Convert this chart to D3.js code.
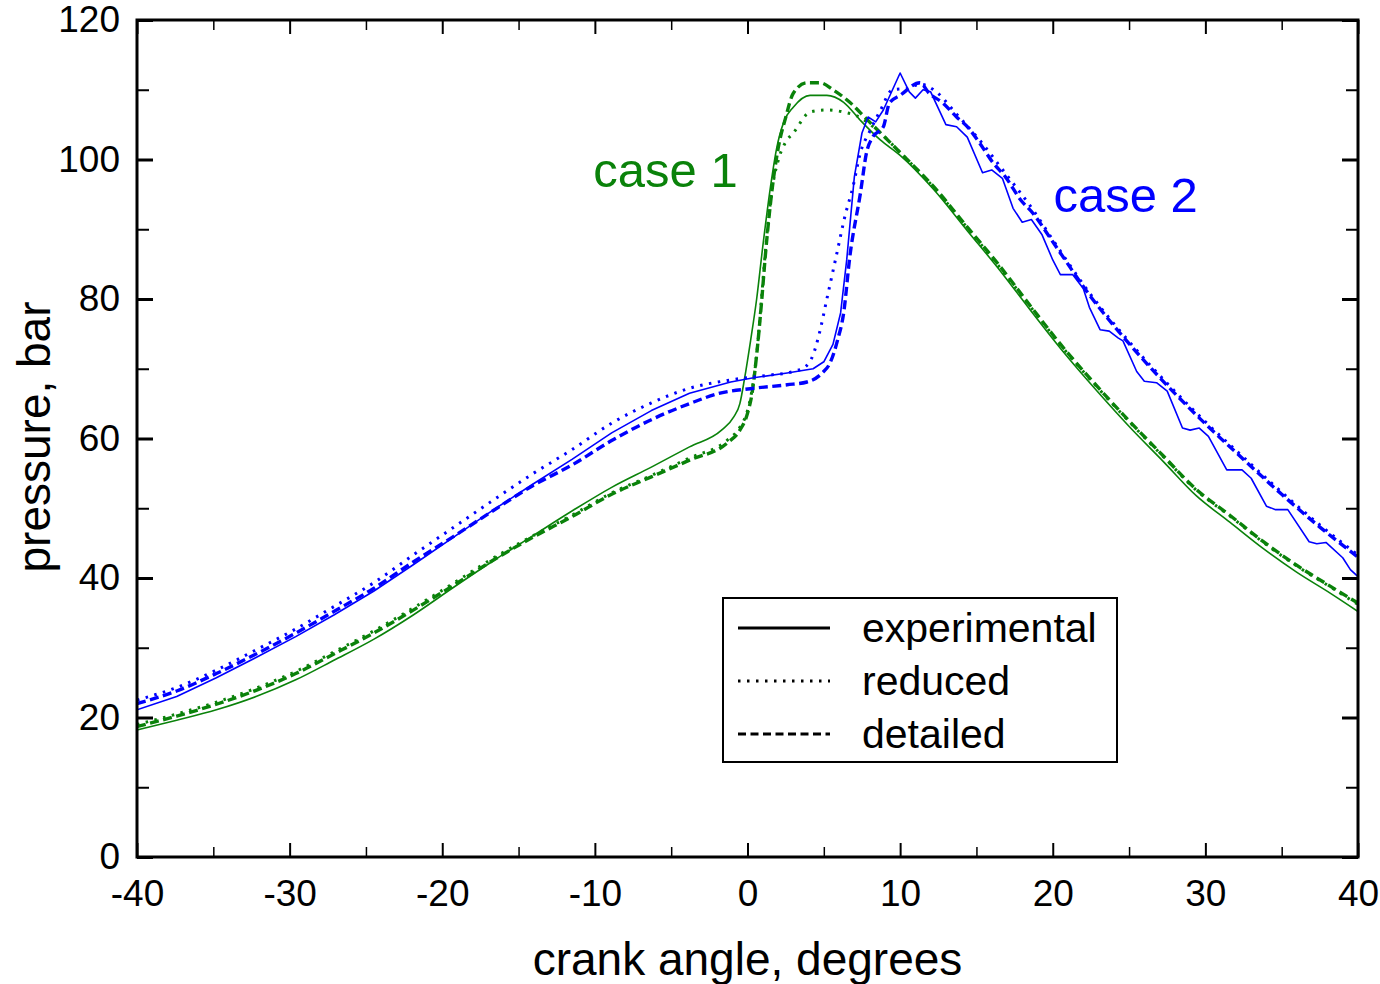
<!DOCTYPE html>
<html>
<head>
<meta charset="utf-8">
<script src="https://cdn.jsdelivr.net/npm/d3@7"></script>
<style>
  html, body { margin: 0; padding: 0; background: #fff; }
  svg { display: block; font-family: Arial, "Liberation Sans", sans-serif; }
</style>
</head>
<body>
<svg id="chart" width="1380" height="984"></svg>
<script>
// ---------------- data ----------------
const xTicksMajor = [-40, -30, -20, -10, 0, 10, 20, 30, 40];
const yTicksMajor = [0, 20, 40, 60, 80, 100, 120];

// case 1 (green)
const case1ExpAngle = [-40,-37.4,-34.8,-32.2,-29.6,-27.1,-24.5,-21.9,-19.3,-16.7,-14.1,-11.5,-8.9,-6.3,-3.8,-1.7,-0.9,-0.5,-0.2,0.2,0.6,1.0,1.5,1.9,2.4,3.0,4.1,5.2,6.3,7.4,8.7,10,12.2,14.4,16.5,18.5,20.7,22.9,25.1,27.2,29.4,31.6,33.8,36,38.2,40];
const case1ExpP     = [18.2,19.6,21.1,23.0,25.4,28.2,31.2,34.7,38.6,42.4,46.0,49.6,53.0,55.9,58.8,61.2,63.1,65.0,68.5,74.0,80.0,87.5,96.0,101.5,105.5,107.5,109.2,109.2,108.2,105.6,102.8,100.6,95.7,89.8,84.2,78.5,72.4,66.8,61.5,56.8,51.8,48.0,44.2,40.8,37.8,35.2];

const case1RedAngle = [-40,-37.4,-34.8,-32.2,-29.6,-27.1,-24.5,-21.9,-19.3,-16.7,-14.1,-11.5,-8.9,-6.3,-3.8,-1.3,-0.5,0.0,0.3,0.6,0.9,1.2,1.6,2.1,2.5,3.0,4.1,5.2,6.3,7.4,8.5,10,12.2,14.4,16.5,18.5,20.7,22.9,25.1,27.2,29.4,31.6,33.8,36,38.2,40];
const case1RedP     = [19.0,20.5,22.2,24.2,26.6,29.4,32.4,35.7,39.2,42.8,46.0,49.0,52.2,54.7,57.2,59.8,61.6,64.0,67.0,72.0,79.5,87.5,95.5,100.5,102.5,103.8,106.8,107.1,106.8,106.0,104.2,101.0,96.0,90.2,84.6,79.0,72.9,67.4,62.2,57.5,52.6,48.9,45.1,41.7,38.7,36.2];

const case1DetAngle = [-40,-37.4,-34.8,-32.2,-29.6,-27.1,-24.5,-21.9,-19.3,-16.7,-14.1,-11.5,-8.9,-6.3,-3.8,-1.3,-0.5,0.0,0.3,0.6,0.9,1.2,1.6,2.0,2.5,3.0,3.9,4.75,5.6,6.7,7.8,10,12.2,14.4,16.5,18.5,20.7,22.9,25.1,27.2,29.4,31.6,33.8,36,38.2,40];
const case1DetP     = [18.7,20.2,21.9,23.9,26.3,29.1,32.1,35.4,38.9,42.5,45.8,48.8,52.0,54.5,56.9,59.4,61.2,63.6,66.5,72.0,79.0,87.0,95.5,101.5,106.0,109.5,111.0,111.0,110.0,108.2,105.8,101.0,96.1,90.3,84.8,79.1,73.0,67.5,62.3,57.6,52.7,49.0,45.2,41.8,38.8,36.4];

// case 2 (blue)
const case2ExpAngle = [-40,-37.4,-34.8,-32.2,-29.6,-27.1,-24.5,-21.9,-19.3,-16.7,-14.1,-11.5,-8.9,-6.3,-3.8,-1.1,0.4,2.6,4.3,5.0,5.6,6.1,6.5,7.0,7.5,7.9,8.4,8.9,10.0,10.6,11.0,11.5,12.0,13.0,13.7,14.4,15.4,16.0,16.7,17.4,18.0,18.6,19.3,20.0,20.5,21.3,22.0,22.4,23.1,23.7,24.3,24.6,25.5,26.0,26.8,27.5,28.5,29.0,29.6,30.2,31.4,32.4,33.0,34.0,34.6,35.4,36.8,37.3,37.9,39.0,39.5,40];
const case2ExpP     = [21.1,23.0,25.7,28.6,31.6,34.7,38.1,41.9,45.8,49.7,53.4,57.0,60.8,64.0,66.5,68.1,68.7,69.4,70.0,71.0,73.5,78.0,85.6,97.5,103.8,106.1,105.4,107.1,112.4,109.7,108.8,110.0,109.7,105.0,104.7,103.2,98.1,98.5,97.3,93.0,91.0,91.4,89.2,85.6,83.5,83.5,81.5,78.8,75.6,75.4,74.4,74.0,69.6,68.2,68.0,66.8,61.5,61.2,61.5,60.3,55.5,55.5,54.3,50.3,49.8,49.8,45.2,44.9,45.1,42.9,41.2,40.2];

const case2RedAngle = [-40,-37.4,-34.8,-32.2,-29.6,-27.1,-24.5,-21.9,-19.3,-16.7,-14.1,-11.5,-8.9,-6.3,-3.8,-1.1,1.5,3.0,3.8,4.3,4.7,5.2,5.8,6.4,6.9,7.4,8.0,8.7,9.5,10.5,11.3,12.2,13.7,15.2,16.9,18.7,20,22.5,25,27.5,30,32.5,35,37.5,40];
const case2RedP     = [22.5,24.3,26.8,29.7,32.7,35.9,39.3,43.3,47.2,51.1,54.9,58.4,62.2,65.1,67.2,68.4,69.1,69.6,70.3,72.0,75.0,80.0,86.0,92.0,96.0,101.0,104.0,107.0,110.0,110.2,110.8,110.0,106.5,102.8,98.0,92.8,88.5,80.6,73.9,67.9,62.4,57.3,52.3,47.6,43.3];

const case2DetAngle = [-40,-37.4,-34.8,-32.2,-29.6,-27.1,-24.5,-21.9,-19.3,-16.7,-14.1,-11.5,-8.9,-6.3,-3.8,-1.8,0.4,2.6,3.9,4.9,5.4,5.9,6.3,6.7,7.4,7.8,8.2,8.9,9.3,10.0,11.3,11.9,12.8,13.7,14.4,15.2,16.1,16.9,17.9,18.7,20,22.5,25,27.5,30,32.5,35,37.5,40];
const case2DetP     = [22.0,23.8,26.3,29.1,32.1,35.2,38.5,42.3,45.9,49.6,53.2,56.2,59.7,62.7,65.0,66.5,67.2,67.7,68.1,69.4,70.8,74.1,78.0,86.0,95.2,101.0,103.2,104.7,108.1,109.2,111.0,109.5,108.1,106.1,104.7,102.4,99.5,97.5,94.2,92.3,88.2,80.3,73.6,67.6,62.1,57.0,52.0,47.3,43.0];

const legendLabels = ["experimental", "reduced", "detailed"];
const caseLabels = ["case 1", "case 2"];

// ---------------- layout ----------------
const GREEN = "#0a820a";
const BLUE = "#0000ff";
const pLeft = 137, pRight = 1358, pTop = 20, pBottom = 857;

const svg = d3.select("#chart");
const x = d3.scaleLinear().domain([-40, 40]).range([pLeft, pRight]);
const y = d3.scaleLinear().domain([0, 120]).range([pBottom, pTop]);

const styles = {
  exp: { width: 1.6, dash: null },
  red: { width: 3, dash: "2.5,6.5" },
  det: { width: 3.4, dash: "9,4.5" }
};

const series = [
  { a: case1ExpAngle, p: case1ExpP, color: GREEN, s: styles.exp, curve: d3.curveMonotoneX },
  { a: case1RedAngle, p: case1RedP, color: GREEN, s: styles.red, curve: d3.curveMonotoneX },
  { a: case1DetAngle, p: case1DetP, color: GREEN, s: styles.det, curve: d3.curveMonotoneX },
  { a: case2ExpAngle, p: case2ExpP, color: BLUE, s: styles.exp, curve: d3.curveLinear },
  { a: case2RedAngle, p: case2RedP, color: BLUE, s: styles.red, curve: d3.curveMonotoneX },
  { a: case2DetAngle, p: case2DetP, color: BLUE, s: styles.det, curve: d3.curveMonotoneX }
];

svg.append("clipPath").attr("id", "clip")
  .append("rect").attr("x", pLeft).attr("y", pTop)
  .attr("width", pRight - pLeft).attr("height", pBottom - pTop);

const plot = svg.append("g").attr("clip-path", "url(#clip)");
series.forEach(sr => {
  const pts = sr.a.map((v, i) => [v, sr.p[i]]);
  const line = d3.line().x(d => x(d[0])).y(d => y(d[1])).curve(sr.curve);
  plot.append("path")
    .attr("d", line(pts))
    .attr("fill", "none")
    .attr("stroke", sr.color)
    .attr("stroke-width", sr.s.width)
    .attr("stroke-dasharray", sr.s.dash)
    .attr("stroke-linejoin", "round");
});

// ---------------- axes ----------------
const fontTick = 37;
function styleAxis(g) {
  g.select(".domain").remove();
  g.selectAll(".tick line").attr("stroke", "#000");
}
const xMinor = d3.range(-35, 40, 10);
const yMinor = d3.range(10, 120, 20);
const fam = "Arial, 'Liberation Sans', sans-serif";
const plainFmt = d => String(d);

// bottom
svg.append("g").attr("transform", `translate(0,${pBottom})`)
  .call(d3.axisBottom(x).tickValues(xTicksMajor).tickSizeInner(-14).tickSizeOuter(0).tickPadding(23).tickFormat(plainFmt))
  .call(styleAxis)
  .call(g => g.selectAll(".tick line").attr("stroke-width", 2))
  .call(g => g.selectAll("text").attr("font-size", fontTick).attr("font-family", fam).attr("fill", "#000"));
svg.append("g").attr("transform", `translate(0,${pBottom})`)
  .call(d3.axisBottom(x).tickValues(xMinor).tickSizeInner(-10).tickSizeOuter(0).tickFormat(""))
  .call(styleAxis)
  .call(g => g.selectAll(".tick line").attr("stroke-width", 1.5));
// top
svg.append("g").attr("transform", `translate(0,${pTop})`)
  .call(d3.axisTop(x).tickValues(xTicksMajor).tickSizeInner(-14).tickSizeOuter(0).tickFormat(""))
  .call(styleAxis)
  .call(g => g.selectAll(".tick line").attr("stroke-width", 2));
svg.append("g").attr("transform", `translate(0,${pTop})`)
  .call(d3.axisTop(x).tickValues(xMinor).tickSizeInner(-10).tickSizeOuter(0).tickFormat(""))
  .call(styleAxis)
  .call(g => g.selectAll(".tick line").attr("stroke-width", 1.5));
// left
svg.append("g").attr("transform", `translate(${pLeft},0)`)
  .call(d3.axisLeft(y).tickValues(yTicksMajor).tickSizeInner(-16).tickSizeOuter(0).tickPadding(17).tickFormat(plainFmt))
  .call(styleAxis)
  .call(g => g.selectAll(".tick line").attr("stroke-width", 3))
  .call(g => g.selectAll("text").attr("font-size", fontTick).attr("font-family", fam).attr("fill", "#000"));
svg.append("g").attr("transform", `translate(${pLeft},0)`)
  .call(d3.axisLeft(y).tickValues(yMinor).tickSizeInner(-12).tickSizeOuter(0).tickFormat(""))
  .call(styleAxis)
  .call(g => g.selectAll(".tick line").attr("stroke-width", 2));
// right
svg.append("g").attr("transform", `translate(${pRight},0)`)
  .call(d3.axisRight(y).tickValues(yTicksMajor).tickSizeInner(-16).tickSizeOuter(0).tickFormat(""))
  .call(styleAxis)
  .call(g => g.selectAll(".tick line").attr("stroke-width", 3));
svg.append("g").attr("transform", `translate(${pRight},0)`)
  .call(d3.axisRight(y).tickValues(yMinor).tickSizeInner(-12).tickSizeOuter(0).tickFormat(""))
  .call(styleAxis)
  .call(g => g.selectAll(".tick line").attr("stroke-width", 2));

// frame
svg.append("rect")
  .attr("x", pLeft).attr("y", pTop)
  .attr("width", pRight - pLeft).attr("height", pBottom - pTop)
  .attr("fill", "none").attr("stroke", "#000").attr("stroke-width", 3);

// axis titles
svg.append("text")
  .attr("x", (pLeft + pRight) / 2).attr("y", 975)
  .attr("text-anchor", "middle").attr("font-size", 46).attr("fill", "#000")
  .text("crank angle, degrees");
svg.append("text")
  .attr("transform", `translate(50,437) rotate(-90)`)
  .attr("text-anchor", "middle").attr("font-size", 46).attr("fill", "#000")
  .text("pressure, bar");

// case labels
svg.append("text")
  .attr("x", x(-10.1)).attr("y", 187)
  .attr("font-size", 49).attr("fill", GREEN)
  .text(caseLabels[0]);
svg.append("text")
  .attr("x", x(20.05)).attr("y", 212)
  .attr("font-size", 49).attr("fill", BLUE)
  .text(caseLabels[1]);

// legend
const lg = svg.append("g");
lg.append("rect")
  .attr("x", 723).attr("y", 598).attr("width", 394).attr("height", 164)
  .attr("fill", "#fff").attr("stroke", "#000").attr("stroke-width", 2);
legendLabels.forEach((lab, i) => {
  const cy = 628 + i * 53;
  lg.append("line")
    .attr("x1", 738).attr("x2", 830).attr("y1", cy).attr("y2", cy)
    .attr("stroke", "#000")
    .attr("stroke-width", 3)
    .attr("stroke-dasharray", i === 0 ? null : (i === 1 ? "2.5,6.5" : "8,4.5"));
  lg.append("text")
    .attr("x", 862).attr("y", cy + 14)
    .attr("font-size", 41).attr("fill", "#000")
    .text(lab);
});
</script>
</body>
</html>
